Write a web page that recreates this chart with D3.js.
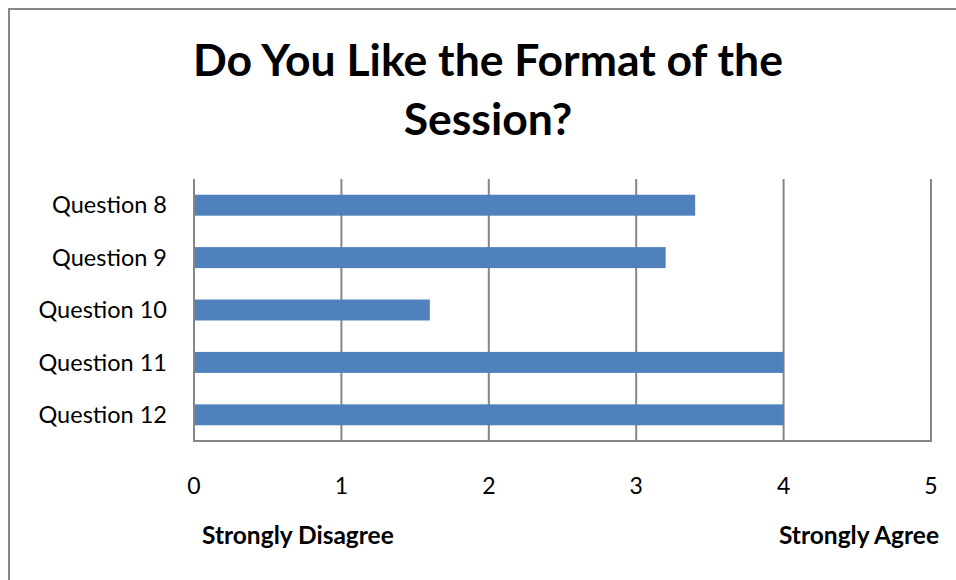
<!DOCTYPE html>
<html>
<head>
<meta charset="utf-8">
<script src="https://cdn.jsdelivr.net/npm/d3@7"></script>
<style>
  body { margin: 0; background: #fff; }
  svg { display: block; }
</style>
</head>
<body>
<svg></svg>
<script>
var questions = ["Question 8", "Question 9", "Question 10", "Question 11", "Question 12"];
var scores = [3.4, 3.2, 1.6, 4, 4];
var xTicks = [0, 1, 2, 3, 4, 5];
var titleLines = ["Do You Like the Format of the", "Session?"];
var endLabels = ["Strongly Disagree", "Strongly Agree"];

draw();

function draw(){
  var width = 956;
  var height = 580;
  var left = 194, right = 931, top = 179, bottom = 441;

  var svg = d3.select("svg")
              .attr("width", width)
              .attr("height", height);

  // chart border, runs off the right and bottom edges
  svg.append("rect")
     .attr("x", 9).attr("y", 9)
     .attr("width", 1000).attr("height", 700)
     .attr("fill", "#fff")
     .attr("stroke", "#888")
     .attr("stroke-width", 2);

  var x = d3.scaleLinear().domain([0, 5]).range([left, right]);
  var y = d3.scaleBand().domain(questions).range([top, bottom]).paddingInner(0.6).paddingOuter(0.3);

  // title
  svg.append("g").selectAll("text")
     .data(titleLines)
     .enter()
     .append("text")
     .attr("x", 488)
     .attr("y", function(d, i){ return 76 + i * 59; })
     .attr("text-anchor", "middle")
     .attr("font-family", "Lato, sans-serif")
     .attr("font-weight", "bold")
     .attr("font-size", 44.5)
     .attr("fill", "#000")
     .text(function(d){ return d; });

  // vertical gridlines
  svg.append("g")
     .selectAll("line")
     .data(xTicks.slice(1))
     .enter()
     .append("line")
     .attr("x1", function(d){ return x(d); })
     .attr("x2", function(d){ return x(d); })
     .attr("y1", top)
     .attr("y2", bottom)
     .attr("stroke", "#868686")
     .attr("stroke-width", 2);

  // bars
  svg.append("g")
     .selectAll("rect")
     .data(questions)
     .enter()
     .append("rect")
     .attr("x", x(0))
     .attr("y", function(d){ return y(d); })
     .attr("width", function(d, i){ return x(scores[i]) - x(0); })
     .attr("height", y.bandwidth())
     .attr("fill", "#4F81BD");

  // axes lines
  svg.append("line")
     .attr("x1", left).attr("x2", left)
     .attr("y1", top).attr("y2", bottom)
     .attr("stroke", "#868686").attr("stroke-width", 2);
  svg.append("line")
     .attr("x1", left - 1).attr("x2", right + 1)
     .attr("y1", bottom).attr("y2", bottom)
     .attr("stroke", "#868686").attr("stroke-width", 2);

  // category labels
  var yb = d3.scaleBand().domain(questions).range([top, bottom]);
  svg.append("g").selectAll("text")
     .data(questions)
     .enter()
     .append("text")
     .attr("x", 167)
     .attr("y", function(d){ return yb(d) + yb.bandwidth() / 2; })
     .attr("dy", "0.35em")
     .attr("text-anchor", "end")
     .attr("font-family", "Lato, sans-serif")
     .attr("font-size", 23.5)
     .attr("fill", "#000")
     .text(function(d){ return d; });

  // x tick labels
  svg.append("g").selectAll("text")
     .data(xTicks)
     .enter()
     .append("text")
     .attr("x", function(d){ return x(d); })
     .attr("y", 494)
     .attr("text-anchor", "middle")
     .attr("font-family", "Lato, sans-serif")
     .attr("font-size", 23)
     .attr("fill", "#000")
     .text(function(d){ return d; });

  // scale end labels
  svg.append("g").selectAll("text")
     .data(endLabels)
     .enter()
     .append("text")
     .attr("x", function(d, i){ return i == 0 ? 202 : 939; })
     .attr("y", 544)
     .attr("text-anchor", function(d, i){ return i == 0 ? "start" : "end"; })
     .attr("font-family", "Lato, sans-serif")
     .attr("font-weight", "bold")
     .attr("font-size", 24.5)
     .attr("fill", "#000")
     .text(function(d){ return d; });
}
</script>
</body>
</html>
